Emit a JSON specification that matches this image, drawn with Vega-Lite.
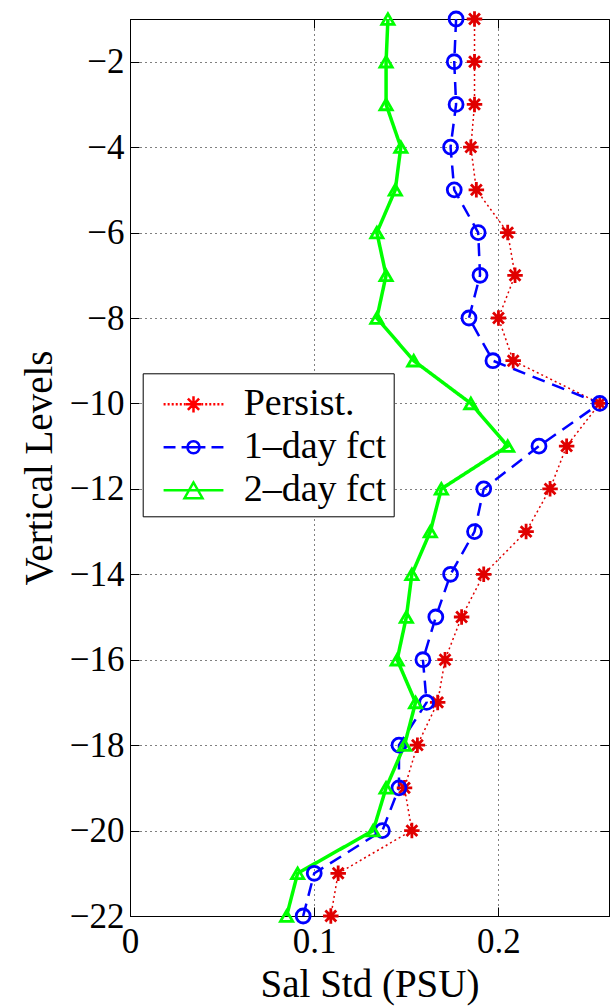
{
  "$schema": "https://vega.github.io/schema/vega-lite/v6.json",
  "width": 479,
  "height": 897,
  "autosize": {"type": "none"},
  "padding": {"left": 130, "top": 19, "right": 1, "bottom": 91},
  "background": "white",
  "config": {
    "view": {"stroke": "black", "strokeWidth": 1},
    "font": "Liberation Serif",
    "axis": {
      "labelFont": "Liberation Serif",
      "titleFont": "Liberation Serif",
      "labelFontSize": 35,
      "titleFontSize": 39,
      "titleFontWeight": "normal",
      "labelColor": "black",
      "titleColor": "black",
      "domainColor": "black",
      "tickColor": "black",
      "tickSize": -9,
      "labelFlush": false,
      "labelOverlap": false,
      "gridColor": "black",
      "gridOpacity": 1,
      "gridDash": [1, 4],
      "gridWidth": 1
    },
    "legend": {
      "labelFont": "Liberation Serif"
    }
  },
  "data": {
    "values": [
      {"level": -1, "series": "Persist.", "value": 0.187},
      {"level": -2, "series": "Persist.", "value": 0.187},
      {"level": -3, "series": "Persist.", "value": 0.187},
      {"level": -4, "series": "Persist.", "value": 0.185},
      {"level": -5, "series": "Persist.", "value": 0.188},
      {"level": -6, "series": "Persist.", "value": 0.205},
      {"level": -7, "series": "Persist.", "value": 0.209},
      {"level": -8, "series": "Persist.", "value": 0.2},
      {"level": -9, "series": "Persist.", "value": 0.208},
      {"level": -10, "series": "Persist.", "value": 0.255},
      {"level": -11, "series": "Persist.", "value": 0.237},
      {"level": -12, "series": "Persist.", "value": 0.228},
      {"level": -13, "series": "Persist.", "value": 0.215},
      {"level": -14, "series": "Persist.", "value": 0.192},
      {"level": -15, "series": "Persist.", "value": 0.18},
      {"level": -16, "series": "Persist.", "value": 0.171},
      {"level": -17, "series": "Persist.", "value": 0.167},
      {"level": -18, "series": "Persist.", "value": 0.156},
      {"level": -19, "series": "Persist.", "value": 0.149},
      {"level": -20, "series": "Persist.", "value": 0.153},
      {"level": -21, "series": "Persist.", "value": 0.113},
      {"level": -22, "series": "Persist.", "value": 0.109},
      {"level": -1, "series": "1–day fct", "value": 0.177},
      {"level": -2, "series": "1–day fct", "value": 0.176},
      {"level": -3, "series": "1–day fct", "value": 0.177},
      {"level": -4, "series": "1–day fct", "value": 0.174},
      {"level": -5, "series": "1–day fct", "value": 0.176},
      {"level": -6, "series": "1–day fct", "value": 0.189},
      {"level": -7, "series": "1–day fct", "value": 0.19},
      {"level": -8, "series": "1–day fct", "value": 0.184},
      {"level": -9, "series": "1–day fct", "value": 0.197},
      {"level": -10, "series": "1–day fct", "value": 0.255},
      {"level": -11, "series": "1–day fct", "value": 0.222},
      {"level": -12, "series": "1–day fct", "value": 0.192},
      {"level": -13, "series": "1–day fct", "value": 0.187},
      {"level": -14, "series": "1–day fct", "value": 0.174},
      {"level": -15, "series": "1–day fct", "value": 0.166},
      {"level": -16, "series": "1–day fct", "value": 0.159},
      {"level": -17, "series": "1–day fct", "value": 0.161},
      {"level": -18, "series": "1–day fct", "value": 0.146},
      {"level": -19, "series": "1–day fct", "value": 0.146},
      {"level": -20, "series": "1–day fct", "value": 0.137},
      {"level": -21, "series": "1–day fct", "value": 0.1},
      {"level": -22, "series": "1–day fct", "value": 0.094},
      {"level": -1, "series": "2–day fct", "value": 0.14},
      {"level": -2, "series": "2–day fct", "value": 0.139},
      {"level": -3, "series": "2–day fct", "value": 0.139},
      {"level": -4, "series": "2–day fct", "value": 0.147},
      {"level": -5, "series": "2–day fct", "value": 0.144},
      {"level": -6, "series": "2–day fct", "value": 0.134},
      {"level": -7, "series": "2–day fct", "value": 0.139},
      {"level": -8, "series": "2–day fct", "value": 0.134},
      {"level": -9, "series": "2–day fct", "value": 0.154},
      {"level": -10, "series": "2–day fct", "value": 0.185},
      {"level": -11, "series": "2–day fct", "value": 0.205},
      {"level": -12, "series": "2–day fct", "value": 0.169},
      {"level": -13, "series": "2–day fct", "value": 0.163},
      {"level": -14, "series": "2–day fct", "value": 0.153},
      {"level": -15, "series": "2–day fct", "value": 0.15},
      {"level": -16, "series": "2–day fct", "value": 0.145},
      {"level": -17, "series": "2–day fct", "value": 0.155},
      {"level": -18, "series": "2–day fct", "value": 0.149},
      {"level": -19, "series": "2–day fct", "value": 0.139},
      {"level": -20, "series": "2–day fct", "value": 0.132},
      {"level": -21, "series": "2–day fct", "value": 0.091},
      {"level": -22, "series": "2–day fct", "value": 0.085}
    ]
  },
  "resolve": {
    "axis": {"x": "independent", "y": "independent"},
    "scale": {"shape": "independent", "color": "independent"},
    "legend": {"shape": "independent", "color": "independent"}
  },
  "layer": [
    {
      "mark": {"type": "line", "clip": false},
      "encoding": {
        "x": {
          "field": "value", "type": "quantitative",
          "scale": {"domain": [0, 0.26], "nice": false, "zero": false},
          "axis": {"orient": "top", "values": [0.1, 0.2], "labels": false, "title": null, "grid": false}
        },
        "y": {
          "field": "level", "type": "quantitative",
          "scale": {"domain": [-22, -1], "nice": false, "zero": false},
          "axis": {"orient": "right", "values": [-22, -20, -18, -16, -14, -12, -10, -8, -6, -4, -2], "labels": false, "title": null, "grid": false}
        },
        "order": {"field": "level", "type": "quantitative", "sort": "descending"},
        "detail": {"field": "series", "type": "nominal"},
        "stroke": {
          "field": "series", "type": "nominal",
          "scale": {"domain": ["Persist.", "1–day fct", "2–day fct"], "range": ["#e00000", "#0000ff", "#00ff00"]},
          "legend": null
        },
        "strokeDash": {
          "field": "series", "type": "nominal",
          "scale": {"domain": ["Persist.", "1–day fct", "2–day fct"], "range": [[2, 3], [13, 8], [1, 0]]},
          "legend": null
        },
        "strokeWidth": {
          "field": "series", "type": "nominal",
          "scale": {"domain": ["Persist.", "1–day fct", "2–day fct"], "range": [1.5, 3.5, 3.5]},
          "legend": null
        }
      }
    },
    {
      "mark": {"type": "point", "filled": false, "strokeWidth": 2.8, "opacity": 1, "clip": false},
      "encoding": {
        "x": {
          "field": "value", "type": "quantitative",
          "scale": {"domain": [0, 0.26], "nice": false, "zero": false},
          "axis": {"orient": "bottom", "values": [0, 0.1, 0.2], "format": "~g", "grid": true, "title": "Sal Std (PSU)", "labelPadding": 17, "titlePadding": 6}
        },
        "y": {
          "field": "level", "type": "quantitative",
          "scale": {"domain": [-22, -1], "nice": false, "zero": false},
          "axis": {"orient": "left", "values": [-22, -20, -18, -16, -14, -12, -10, -8, -6, -4, -2], "format": "d", "grid": true, "title": "Vertical Levels", "labelPadding": 15, "titlePadding": 10}
        },
        "stroke": {
          "field": "series", "type": "nominal",
          "scale": {"domain": ["Persist.", "1–day fct", "2–day fct"], "range": ["#ff0000", "#0000ff", "#00ff00"]},
          "legend": null
        },
        "shape": {
          "field": "series", "type": "nominal",
          "scale": {"domain": ["Persist.", "1–day fct", "2–day fct"], "range": ["M0,-1L0,1M-1,0L1,0M-0.7,-0.7L0.7,0.7M-0.7,0.7L0.7,-0.7", "circle", "triangle-up"]},
          "legend": null
        },
        "size": {
          "field": "series", "type": "nominal",
          "scale": {"domain": ["Persist.", "1–day fct", "2–day fct"], "range": [240, 150, 340]},
          "legend": null
        }
      }
    },
    {
      "transform": [{"filter": "datum.value < 0"}],
      "mark": {"type": "point", "filled": false, "strokeWidth": 2.5, "size": 2025, "opacity": 1},
      "encoding": {
        "x": {"field": "value", "type": "quantitative", "axis": null},
        "y": {"field": "level", "type": "quantitative", "axis": null},
        "shape": {
          "field": "series", "type": "nominal",
          "scale": {"domain": ["Persist.", "1–day fct", "2–day fct"], "range": [
            "M-0.45,0L-0.36,0M-0.27,0L-0.18,0M-0.09,0L0,0M0.09,0L0.18,0M0.27,0L0.36,0M0.45,0L0.51,0M1.25,0L1.31,0M1.4,0L1.49,0M1.58,0L1.67,0M1.76,0L1.85,0M1.94,0L2.03,0M2.12,0L2.21,0M0.88,-0.36L0.88,0.36M0.52,0L1.24,0M0.63,-0.25L1.13,0.25M0.63,0.25L1.13,-0.25",
            "M-0.45,0L0.08,0M0.35,0L1.41,0M1.68,0L2.21,0M1.15,0A0.27,0.27 0 1,0 0.61,0A0.27,0.27 0 1,0 1.15,0",
            "M-0.45,0L2.21,0M0.88,-0.35L0.48,0.35L1.28,0.35Z"
          ]},
          "legend": {
            "orient": "none", "legendX": 12.7, "legendY": 354.3, "title": null,
            "padding": 7, "rowPadding": 0, "strokeColor": "black", "fillColor": "white",
            "labelFontSize": 38, "labelColor": "black", "labelOffset": 46, "labelLimit": 0,
            "labelExpr": "datum.label + '\u2009'",
            "symbolSize": 2025, "symbolStrokeWidth": 2.5, "symbolFillColor": "transparent", "symbolOpacity": 1
          }
        },
        "color": {
          "field": "series", "type": "nominal",
          "scale": {"domain": ["Persist.", "1–day fct", "2–day fct"], "range": ["#ff0000", "#0000ff", "#00ff00"]},
          "legend": {
            "orient": "none", "legendX": 12.7, "legendY": 354.3, "title": null,
            "padding": 7, "rowPadding": 0, "strokeColor": "black", "fillColor": "white",
            "labelFontSize": 38, "labelColor": "black", "labelOffset": 46, "labelLimit": 0,
            "labelExpr": "datum.label + '\u2009'",
            "symbolSize": 2025, "symbolStrokeWidth": 2.5, "symbolFillColor": "transparent", "symbolOpacity": 1
          }
        }
      }
    }
  ]
}
